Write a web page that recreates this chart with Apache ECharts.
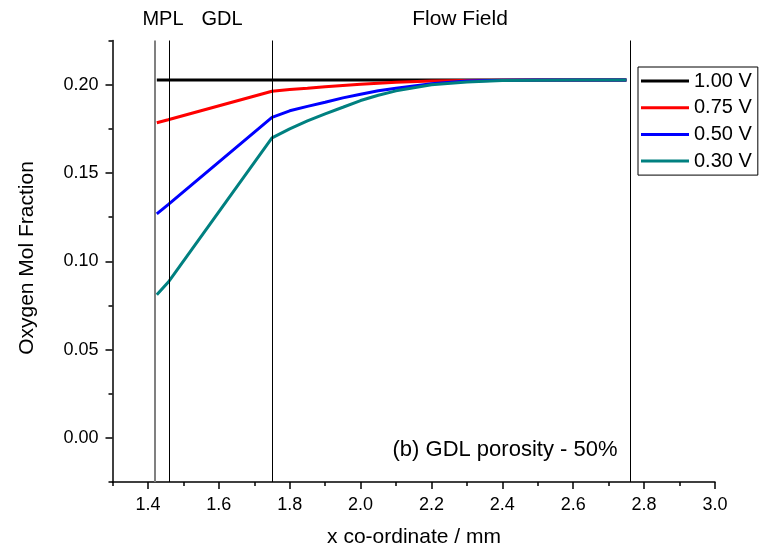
<!DOCTYPE html>
<html>
<head>
<meta charset="utf-8">
<script src="https://cdn.jsdelivr.net/npm/echarts@6/dist/echarts.min.js"></script>
<style>
html, body { margin: 0; padding: 0; background: #fff; }
#chart { width: 761px; height: 553px; }
</style>
</head>
<body>
<div id="chart"></div>
<script>
var xPos = [1.425, 1.457, 1.75, 1.8, 1.85, 1.9, 1.95, 2.0, 2.05, 2.1, 2.2, 2.3, 2.4, 2.5, 2.6, 2.75];
var v100 = [0.2026, 0.2026, 0.2026, 0.2026, 0.2026, 0.2026, 0.2026, 0.2026, 0.2026, 0.2026, 0.2026, 0.2026, 0.2026, 0.2026, 0.2026, 0.2026];
var v075 = [0.1784, 0.1801, 0.1963, 0.1972, 0.1979, 0.1988, 0.1995, 0.2002, 0.2008, 0.2013, 0.2020, 0.2023, 0.2025, 0.2026, 0.2026, 0.2026];
var v050 = [0.1268, 0.1321, 0.1815, 0.1852, 0.1877, 0.1900, 0.1925, 0.1946, 0.1965, 0.1980, 0.2005, 0.2020, 0.2025, 0.2026, 0.2026, 0.2026];
var v030 = [0.0810, 0.0881, 0.1699, 0.1750, 0.1795, 0.1835, 0.1872, 0.1910, 0.1940, 0.1965, 0.1999, 0.2015, 0.2023, 0.2025, 0.2026, 0.2026];
var seriesNames = ['1.00 V', '0.75 V', '0.50 V', '0.30 V'];
var seriesColors = ['#000000', '#ff0000', '#0000ff', '#008080'];

var xMajor = [1.4, 1.6, 1.8, 2.0, 2.2, 2.4, 2.6, 2.8, 3.0];
var xMinor = [1.3, 1.5, 1.7, 1.9, 2.1, 2.3, 2.5, 2.7, 2.9];
var yMajor = [0, 0.05, 0.10, 0.15, 0.20];
var yMinor = [-0.025, 0.025, 0.075, 0.125, 0.175, 0.225];

// region boundaries (MPL / GDL / flow field)
var boundaries = [1.422, 1.457, 1.751, 2.758];

var font = 'Arial, "Liberation Sans", sans-serif';

function pairs(ys) {
    return xPos.map(function (x, i) { return [x, ys[i]]; });
}

function label(text, x, y, size, rot) {
    return {
        type: 'text', x: x, y: y, rotation: rot || 0,
        style: { text: text, font: size + 'px ' + font, fill: '#000', align: 'center', verticalAlign: 'middle' }
    };
}

var myChart = echarts.init(document.getElementById('chart'));
var option = {
    animation: false,
    textStyle: { fontFamily: font },
    grid: { left: 112.5, right: 46, top: 40.5, bottom: 71 },
    legend: {
        orient: 'vertical',
        left: 638,
        top: 67,
        icon: 'rect',
        itemWidth: 48,
        itemHeight: 3,
        itemGap: 6.7,
        padding: [4, 6, 4, 3],
        borderColor: '#000',
        borderWidth: 1,
        textStyle: { fontSize: 20, color: '#000', lineHeight: 20, fontFamily: font },
        data: seriesNames
    },
    xAxis: [{
        type: 'value',
        min: 1.3,
        max: 3.0,
        splitLine: { show: false },
        axisLine: { onZero: false, lineStyle: { color: '#000', width: 1.5 } },
        axisTick: { customValues: xMajor, length: 7, lineStyle: { color: '#000', width: 1.5 } },
        axisLabel: {
            customValues: xMajor,
            margin: 14,
            fontSize: 18,
            color: '#000',
            formatter: function (v) { return v.toFixed(1); }
        }
    }, {
        type: 'value',
        position: 'bottom',
        min: 1.3,
        max: 3.0,
        splitLine: { show: false },
        axisLine: { show: false, onZero: false },
        axisTick: { customValues: xMinor, length: 4, lineStyle: { color: '#000', width: 1.5 } },
        axisLabel: { show: false }
    }],
    yAxis: [{
        type: 'value',
        min: -0.025,
        max: 0.225,
        splitLine: { show: false },
        axisLine: { show: true, onZero: false, lineStyle: { color: '#000', width: 1.5 } },
        axisTick: { show: true, customValues: yMajor, length: 7, lineStyle: { color: '#000', width: 1.5 } },
        axisLabel: {
            customValues: yMajor,
            margin: 14,
            fontSize: 18,
            color: '#000',
            formatter: function (v) { return v.toFixed(2); }
        }
    }, {
        type: 'value',
        position: 'left',
        min: -0.025,
        max: 0.225,
        splitLine: { show: false },
        axisLine: { show: false, onZero: false },
        axisTick: { show: true, customValues: yMinor, length: 4, lineStyle: { color: '#000', width: 1.5 } },
        axisLabel: { show: false }
    }],
    graphic: [
        label('MPL', 163, 19, 20),
        label('GDL', 222, 19, 20),
        label('Flow Field', 460, 19, 21),
        label('(b) GDL porosity - 50%', 505, 450, 22),
        label('x co-ordinate / mm', 414, 537, 21),
        label('Oxygen Mol Fraction', 27, 258, 21, Math.PI / 2)
    ],
    series: [{
        name: 'bounds',
        type: 'line',
        data: [],
        silent: true,
        markLine: {
            silent: true,
            symbol: 'none',
            label: { show: false },
            animation: false,
            data: [
                { xAxis: boundaries[0], lineStyle: { color: '#808080', width: 2, type: 'solid' } },
                { xAxis: boundaries[1], lineStyle: { color: '#000', width: 1, type: 'solid' } },
                { xAxis: boundaries[2], lineStyle: { color: '#000', width: 1, type: 'solid' } },
                { xAxis: boundaries[3], lineStyle: { color: '#000', width: 1, type: 'solid' } }
            ]
        }
    }].concat([v100, v075, v050, v030].map(function (vals, i) {
        return {
            name: seriesNames[i],
            type: 'line',
            data: pairs(vals),
            showSymbol: false,
            symbol: 'none',
            color: seriesColors[i],
            lineStyle: { color: seriesColors[i], width: 3 }
        };
    }))
};
myChart.setOption(option);
</script>
</body>
</html>
